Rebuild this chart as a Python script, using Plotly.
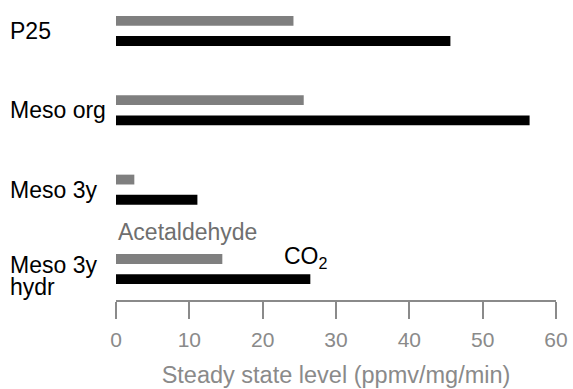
import plotly.graph_objects as go

categories = ["P25", "Meso org", "Meso 3y", "Meso 3y hydr"]
category_labels = [["P25"], ["Meso org"], ["Meso 3y"], ["Meso 3y", "hydr"]]
acetaldehyde = [24.2, 25.6, 2.5, 14.5]
co2 = [45.6, 56.4, 11.1, 26.5]
x_ticks = [0, 10, 20, 30, 40, 50, 60]

GRAY = "#7f7f7f"
AXIS_GRAY = "#8a8a8a"
FONT = "Arial, Liberation Sans, sans-serif"

fig = go.Figure()
fig.add_trace(go.Bar(y=categories, x=acetaldehyde, orientation="h",
                     marker=dict(color=GRAY, line=dict(width=0)), name="Acetaldehyde"))
fig.add_trace(go.Bar(y=categories, x=co2, orientation="h",
                     marker=dict(color="#000000", line=dict(width=0)), name="CO2"))

annotations = []
LINE_H = 22
for cat, lines in zip(categories, category_labels):
    n = len(lines)
    for i, line in enumerate(lines):
        shift = ((n - 1) / 2 - i) * LINE_H
        if n > 1:
            shift -= 7
        annotations.append(dict(
            x=-0.245, xref="paper", y=cat, yref="y", text=line, showarrow=False,
            xanchor="left", yanchor="middle", align="left", yshift=shift,
            font=dict(family=FONT, size=23, color="#000000")))

annotations.append(dict(x=0, xref="x", y=0.232, yref="paper", text="Acetaldehyde",
                        showarrow=False, xanchor="left", yanchor="middle",
                        font=dict(family=FONT, size=23, color="#6f6f6f")))
annotations.append(dict(x=22.7, xref="x", y=0.143, yref="paper", text="CO<sub>2</sub>",
                        showarrow=False, xanchor="left", yanchor="middle",
                        font=dict(family=FONT, size=23, color="#000000")))

fig.update_layout(
    width=573, height=389,
    margin=dict(l=115.7, r=15.3, t=5, b=84),
    paper_bgcolor="white", plot_bgcolor="white",
    barmode="group", bargap=0.492, bargroupgap=0.512,
    showlegend=False,
    font=dict(family=FONT),
    annotations=annotations,
    xaxis=dict(range=[0, 60], tickvals=x_ticks, ticktext=[str(v) for v in x_ticks],
               showgrid=False, zeroline=False,
               showline=True, linecolor=AXIS_GRAY, linewidth=2,
               ticks="outside", ticklen=17, tickwidth=2, tickcolor=AXIS_GRAY,
               ticklabelstandoff=3,
               tickfont=dict(family=FONT, size=21, color=AXIS_GRAY),
               title=dict(text="Steady state level (ppmv/mg/min)", standoff=16,
                          font=dict(family=FONT, size=23.5, color=AXIS_GRAY))),
    yaxis=dict(type="category", categoryarray=categories, range=[3.39, -0.326],
               showticklabels=False, showgrid=False, zeroline=False, showline=False,
               ticks=""),
)

fig.write_html("out.html")
